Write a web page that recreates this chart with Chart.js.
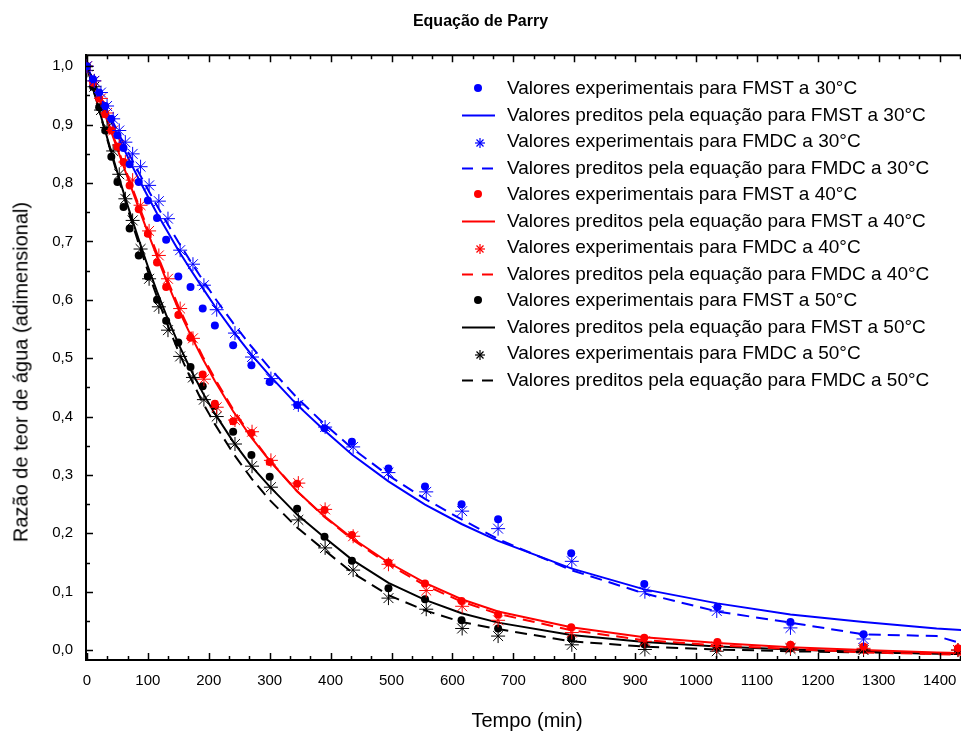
<!DOCTYPE html>
<html>
<head>
<meta charset="utf-8">
<title>Equação de Parry</title>
<script src="https://cdn.jsdelivr.net/npm/chart.js@4.4.1/dist/chart.umd.min.js"></script>
<style>
  body { margin: 0; background: #fff; }
  #wrap { position: relative; width: 961px; height: 738px; font-family: "Liberation Sans", Arial, sans-serif; color: #000; }
  #xtitle { position: absolute; left: 527px; top: 720px; transform: translate(-50%, -50%); font-size: 20px; white-space: nowrap; }
  #ytitle { position: absolute; left: 21px; top: 372px; transform: translate(-50%, -50%) rotate(-90deg); font-size: 20px; white-space: nowrap; }
  #legend { position: absolute; left: 458px; top: 75px; }
  .row { position: relative; height: 26.5px; line-height: 26.5px; font-size: 19px; white-space: nowrap; }
  .row svg { position: absolute; left: 0; top: 0; }
  .row span { position: absolute; left: 49px; top: 0; }
</style>
</head>
<body>
<div id="wrap">
  <canvas id="chart" width="961" height="738"></canvas>
  <div id="xtitle">Tempo (min)</div>
  <div id="ytitle">Razão de teor de água (adimensional)</div>
  <div id="legend"></div>
</div>
<script>
// tempos de amostragem (min)
var tempoFMST = [0, 10, 20, 30, 40, 50, 60, 70, 85, 100, 115, 130, 150, 170, 190, 210, 240, 270, 300, 345, 390, 435, 495, 555, 615, 675, 795, 915, 1035, 1155, 1275, 1430];
var tempoFMDC = [0, 12, 23, 33, 43, 53, 63, 75, 88, 102, 118, 133, 153, 174, 192, 213, 243, 271, 302, 347, 391, 437, 495, 557, 616, 675, 796, 916, 1034, 1155, 1275, 1430];
var tempoPred = [0, 10, 20, 30, 40, 50, 60, 70, 85, 100, 115, 130, 150, 170, 190, 210, 240, 270, 300, 345, 390, 435, 495, 555, 615, 675, 795, 915, 1035, 1155, 1275, 1395, 1440];

// valores experimentais
var expFMST30 = [1.0, 0.978, 0.955, 0.932, 0.910, 0.882, 0.860, 0.832, 0.802, 0.770, 0.740, 0.703, 0.640, 0.622, 0.585, 0.556, 0.522, 0.488, 0.459, 0.420, 0.380, 0.357, 0.311, 0.280, 0.250, 0.224, 0.166, 0.113, 0.074, 0.048, 0.027, null];
var expFMDC30 = [1.0, 0.975, 0.955, 0.932, 0.910, 0.890, 0.870, 0.850, 0.828, 0.796, 0.769, 0.739, 0.685, 0.661, 0.625, 0.583, 0.543, 0.502, 0.465, 0.420, 0.382, 0.348, 0.304, 0.271, 0.238, 0.208, 0.152, 0.100, 0.067, 0.038, 0.019, null];
var expFMST40 = [1.0, 0.972, 0.945, 0.918, 0.890, 0.862, 0.836, 0.796, 0.755, 0.713, 0.664, 0.622, 0.574, 0.535, 0.472, 0.422, 0.392, 0.372, 0.322, 0.285, 0.240, 0.197, 0.150, 0.114, 0.084, 0.061, 0.039, 0.021, 0.014, 0.009, 0.006, 0.003];
var expFMDC40 = [1.0, 0.975, 0.945, 0.920, 0.890, 0.865, 0.836, 0.805, 0.762, 0.718, 0.676, 0.636, 0.585, 0.534, 0.464, 0.416, 0.394, 0.374, 0.325, 0.286, 0.241, 0.195, 0.147, 0.102, 0.075, 0.051, 0.030, 0.015, 0.006, 0.004, 0.003, 0.0];
var expFMST50 = [1.0, 0.965, 0.930, 0.890, 0.845, 0.802, 0.759, 0.722, 0.676, 0.640, 0.600, 0.564, 0.527, 0.485, 0.452, 0.418, 0.374, 0.334, 0.297, 0.242, 0.194, 0.153, 0.106, 0.087, 0.051, 0.037, 0.020, 0.010, 0.005, 0.003, 0.002, 0.0];
var expFMDC50 = [0.993, 0.965, 0.925, 0.895, 0.855, 0.815, 0.773, 0.736, 0.687, 0.636, 0.588, 0.548, 0.503, 0.467, 0.429, 0.400, 0.353, 0.315, 0.279, 0.223, 0.175, 0.137, 0.089, 0.070, 0.037, 0.024, 0.009, 0.001, -0.002, 0.002, 0.0, 0.0];

// valores preditos pela equação de Parry
var predFMST30 = [1.0, 0.975, 0.951, 0.927, 0.904, 0.882, 0.860, 0.838, 0.807, 0.777, 0.748, 0.721, 0.685, 0.652, 0.620, 0.589, 0.546, 0.506, 0.470, 0.420, 0.376, 0.335, 0.289, 0.249, 0.216, 0.187, 0.140, 0.104, 0.080, 0.061, 0.048, 0.037, 0.034];
var predFMDC30 = [1.0, 0.977, 0.954, 0.932, 0.910, 0.889, 0.868, 0.848, 0.818, 0.789, 0.761, 0.734, 0.699, 0.666, 0.634, 0.603, 0.560, 0.520, 0.483, 0.432, 0.387, 0.346, 0.299, 0.259, 0.224, 0.190, 0.137, 0.097, 0.066, 0.047, 0.027, 0.024, 0.010];
var predFMST40 = [1.0, 0.973, 0.945, 0.916, 0.887, 0.858, 0.829, 0.800, 0.757, 0.715, 0.674, 0.634, 0.584, 0.540, 0.499, 0.461, 0.409, 0.364, 0.324, 0.272, 0.229, 0.192, 0.150, 0.115, 0.087, 0.066, 0.039, 0.022, 0.012, 0.005, 0.000, -0.004, -0.005];
var predFMDC40 = [1.0, 0.973, 0.946, 0.918, 0.889, 0.861, 0.832, 0.804, 0.762, 0.720, 0.679, 0.639, 0.589, 0.545, 0.503, 0.465, 0.412, 0.366, 0.325, 0.272, 0.228, 0.190, 0.147, 0.111, 0.083, 0.062, 0.034, 0.017, 0.008, 0.002, -0.004, -0.007, -0.008];
var predFMST50 = [1.0, 0.962, 0.925, 0.889, 0.853, 0.818, 0.784, 0.751, 0.703, 0.657, 0.614, 0.574, 0.525, 0.481, 0.441, 0.405, 0.357, 0.315, 0.280, 0.232, 0.193, 0.155, 0.115, 0.086, 0.063, 0.047, 0.026, 0.014, 0.006, 0.001, -0.003, -0.006, -0.007];
var predFMDC50 = [1.0, 0.962, 0.924, 0.887, 0.850, 0.814, 0.779, 0.745, 0.696, 0.649, 0.605, 0.563, 0.512, 0.466, 0.424, 0.387, 0.337, 0.294, 0.257, 0.210, 0.171, 0.133, 0.094, 0.068, 0.048, 0.036, 0.015, 0.006, 0.001, -0.002, -0.004, -0.006, -0.007];

var legendas = [
    "Valores experimentais para FMST a 30°C",
    "Valores preditos pela equação para FMST a 30°C",
    "Valores experimentais para FMDC a 30°C",
    "Valores preditos pela equação para FMDC a 30°C",
    "Valores experimentais para FMST a 40°C",
    "Valores preditos pela equação para FMST a 40°C",
    "Valores experimentais para FMDC a 40°C",
    "Valores preditos pela equação para FMDC a 40°C",
    "Valores experimentais para FMST a 50°C",
    "Valores preditos pela equação para FMST a 50°C",
    "Valores experimentais para FMDC a 50°C",
    "Valores preditos pela equação para FMDC a 50°C"
];

var cores = ["#0000ff", "#ff0000", "#000000"];

function pontos(xs, ys) {
    return ys.map(function (y, i) { return { x: xs[i], y: y }; });
}

function dot(label, xs, ys, cor) {
    return { label: label, data: pontos(xs, ys), showLine: false, pointStyle: "circle",
        pointRadius: 4, pointBackgroundColor: cor, pointBorderWidth: 0, order: 1 };
}
function star(label, xs, ys, cor) {
    return { label: label, data: pontos(xs, ys), showLine: false, pointStyle: "star",
        pointRadius: 7, pointBorderColor: cor, pointBorderWidth: 1, order: 1 };
}
function line(label, ys, cor, dash) {
    return { label: label, data: pontos(tempoPred, ys), showLine: true, pointRadius: 0,
        borderColor: cor, borderWidth: 2, borderDash: dash ? [12, 7] : [], tension: 0, order: 2 };
}

var datasets = [
    dot(legendas[0], tempoFMST, expFMST30, cores[0]),
    line(legendas[1], predFMST30, cores[0], false),
    star(legendas[2], tempoFMDC, expFMDC30, cores[0]),
    line(legendas[3], predFMDC30, cores[0], true),
    dot(legendas[4], tempoFMST, expFMST40, cores[1]),
    line(legendas[5], predFMST40, cores[1], false),
    star(legendas[6], tempoFMDC, expFMDC40, cores[1]),
    line(legendas[7], predFMDC40, cores[1], true),
    dot(legendas[8], tempoFMST, expFMST50, cores[2]),
    line(legendas[9], predFMST50, cores[2], false),
    star(legendas[10], tempoFMDC, expFMDC50, cores[2]),
    line(legendas[11], predFMDC50, cores[2], true)
];

// marcas de escala para dentro da area do grafico, como no original
var marcasInternas = {
    id: "marcasInternas",
    afterDraw: function (chart) {
        var ctx = chart.ctx, a = chart.chartArea;
        var x = chart.scales.x, y = chart.scales.y;
        ctx.save();
        ctx.strokeStyle = "#000";
        ctx.lineWidth = 1.5;
        ctx.beginPath();
        for (var i = 0; i * 100 / 3 <= x.max; i++) {
            var px = Math.round(x.getPixelForValue(i * 100 / 3)) + 0.5;
            var len = (i % 3 === 0) ? 7 : 4;
            ctx.moveTo(px, a.bottom); ctx.lineTo(px, a.bottom - len);
            ctx.moveTo(px, a.top); ctx.lineTo(px, a.top + len);
        }
        for (var j = 0; j * 0.05 <= y.max; j++) {
            var py = Math.round(y.getPixelForValue(j * 0.05)) + 0.5;
            var l2 = (j % 2 === 0) ? 7 : 4;
            ctx.moveTo(a.left, py); ctx.lineTo(a.left + l2, py);
        }
        ctx.stroke();
        ctx.lineWidth = 2;
        ctx.beginPath();
        ctx.moveTo(a.left, a.top); ctx.lineTo(a.right, a.top);
        ctx.stroke();
        ctx.restore();
    }
};

new Chart("chart", {
    type: "scatter",
    data: { datasets: datasets },
    options: {
        responsive: false,
        animation: false,
        layout: { autoPadding: false, padding: { left: 0, right: 0, top: 0, bottom: 0 } },
        plugins: {
            legend: { display: false },
            tooltip: { enabled: false },
            title: {
                display: true,
                text: "Equação de Parry",
                color: "#000",
                font: { family: "Liberation Sans", size: 16, weight: "bold" },
                padding: { top: 12, bottom: 24 }
            }
        },
        scales: {
            x: {
                type: "linear",
                min: -1.6,
                max: 1435,
                afterFit: function (s) { s.height = 78; s.paddingLeft = 0; s.paddingRight = 0; },
                grid: { display: true, drawOnChartArea: false, drawTicks: false },
                border: { display: true, color: "#000", width: 2 },
                ticks: {
                    stepSize: 100, includeBounds: false, autoSkip: false, maxRotation: 0,
                    padding: 12, color: "#000",
                    font: { family: "Liberation Sans", size: 15 },
                    callback: function (v) { return Math.round(v); }
                }
            },
            y: {
                type: "linear",
                min: -0.017,
                max: 1.019,
                afterFit: function (s) { s.width = 86; },
                grid: { display: true, drawOnChartArea: false, drawTicks: false },
                border: { display: true, color: "#000", width: 2 },
                ticks: {
                    stepSize: 0.1, includeBounds: false, padding: 13, color: "#000",
                    font: { family: "Liberation Sans", size: 15 },
                    callback: function (v) { return v.toFixed(1).replace(".", ","); }
                }
            }
        }
    },
    plugins: [marcasInternas]
});

// legenda dentro da area do grafico
var leg = document.getElementById("legend");
legendas.forEach(function (txt, i) {
    var cor = cores[Math.floor(i / 4)];
    var tipo = i % 4;
    var svg;
    if (tipo === 0) {
        svg = '<circle cx="20" cy="13" r="4" fill="' + cor + '"/>';
    } else if (tipo === 2) {
        svg = '<g stroke="' + cor + '" stroke-width="1.2"><line x1="22" y1="10" x2="22" y2="20"/><line x1="17" y1="15" x2="27" y2="15"/>' +
              '<line x1="18.5" y1="11.5" x2="25.5" y2="18.5"/><line x1="18.5" y1="18.5" x2="25.5" y2="11.5"/></g>';
    } else {
        svg = '<line x1="4" y1="13.5" x2="37" y2="13.5" stroke="' + cor + '" stroke-width="2"' +
              (tipo === 3 ? ' stroke-dasharray="11 9"' : '') + '/>';
    }
    var row = document.createElement("div");
    row.className = "row";
    row.innerHTML = '<svg width="44" height="27">' + svg + '</svg><span>' + txt + '</span>';
    leg.appendChild(row);
});
</script>
</body>
</html>
